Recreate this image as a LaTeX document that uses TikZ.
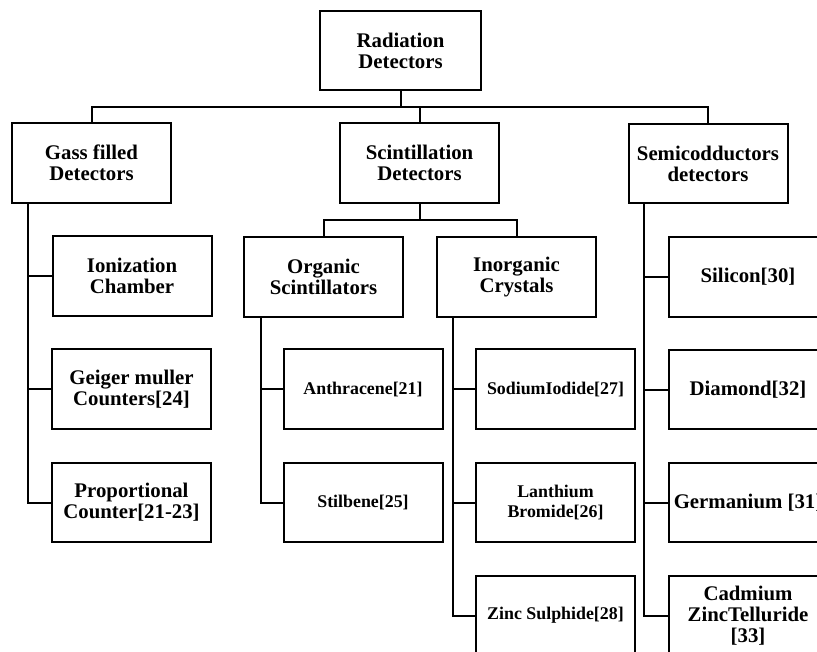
\documentclass[tikz,border=0pt]{standalone}
\usepackage{fontspec}
\setmainfont{Liberation Serif}
\begin{document}
\begin{tikzpicture}[x=0.75pt,y=-0.75pt,
  box/.style={draw,line width=1.5pt,rectangle,minimum width=119.25pt,minimum height=59.5pt,inner sep=0pt,align=center,font=\fontsize{15.6pt}{15.8pt}\selectfont\bfseries},
  sbox/.style={box,font=\fontsize{13.4pt}{15pt}\selectfont\bfseries},
  wire/.style={line width=1.5pt}]
\useasboundingbox (0,0) rectangle (817,651);
\clip (0,0) rectangle (817,651);
% top level
\node[box,minimum width=120.75pt] (root) at (400.5,50.5) {Radiation\\Detectors};
\node[box] (gass) at (91.5,163) {Gass filled\\Detectors};
\node[box] (scint) at (419.5,163) {Scintillation\\Detectors};
\node[box] (semi) at (708,163.5) {Semicodductors\\detectors};
% scintillation sub groups
\node[box] (org) at (323.5,277) {Organic\\Scintillators};
\node[box] (inorg) at (516.5,277) {Inorganic\\Crystals};
% gas filled
\node[box] (ion) at (132,276) {Ionization\\Chamber};
\node[box] (geig) at (131.5,389) {Geiger muller\\Counters[24]};
\node[box] (prop) at (131.5,502.5) {Proportional\\Counter[21-23]};
% organic
\node[sbox] (anth) at (363,389) {Anthracene[21]};
\node[sbox] (stil) at (363,502.5) {Stilbene[25]};
% inorganic
\node[sbox] (sod) at (555.5,389) {SodiumIodide[27]};
\node[sbox] (lan) at (555.5,502.5) {Lanthium\\Bromide[26]};
\node[sbox] (zinc) at (555.5,615.5) {Zinc Sulphide[28]};
% semiconductors
\node[box] (sil) at (748,277) {Silicon[30]};
\node[box] (dia) at (748,389.5) {Diamond[32]};
\node[box] (ger) at (748,502.5) {Germanium [31]};
\node[box] (cad) at (748,616) {Cadmium\\ZincTelluride\\{[33]}};
% bus coordinates
\coordinate (bus) at (0,107);
\coordinate (sbus) at (0,220);
\coordinate (gx) at (28,0);
\coordinate (ox) at (261,0);
\coordinate (ix) at (453,0);
\coordinate (sx) at (644,0);
% connectors top
\draw[wire] (root.south) -- (root.south |- bus);
\draw[wire] (gass.north) -- (gass.north |- bus) -- (semi.north |- bus) -- (semi.north);
\draw[wire] (scint.north) -- (scint.north |- bus);
% scintillation sub-bus
\draw[wire] (scint.south) -- (scint.south |- sbus);
\draw[wire] (org.north) -- (org.north |- sbus) -- (inorg.north |- sbus) -- (inorg.north);
% gas filled branches
\draw[wire] (gx |- gass.south) |- (prop.west);
\draw[wire] (gx |- ion.west) -- (ion.west);
\draw[wire] (gx |- geig.west) -- (geig.west);
% organic branches
\draw[wire] (ox |- org.south) |- (stil.west);
\draw[wire] (ox |- anth.west) -- (anth.west);
% inorganic branches
\draw[wire] (ix |- inorg.south) |- (zinc.west);
\draw[wire] (ix |- sod.west) -- (sod.west);
\draw[wire] (ix |- lan.west) -- (lan.west);
% semiconductor branches
\draw[wire] (sx |- semi.south) |- (cad.west);
\draw[wire] (sx |- sil.west) -- (sil.west);
\draw[wire] (sx |- dia.west) -- (dia.west);
\draw[wire] (sx |- ger.west) -- (ger.west);
\end{tikzpicture}
\end{document}
